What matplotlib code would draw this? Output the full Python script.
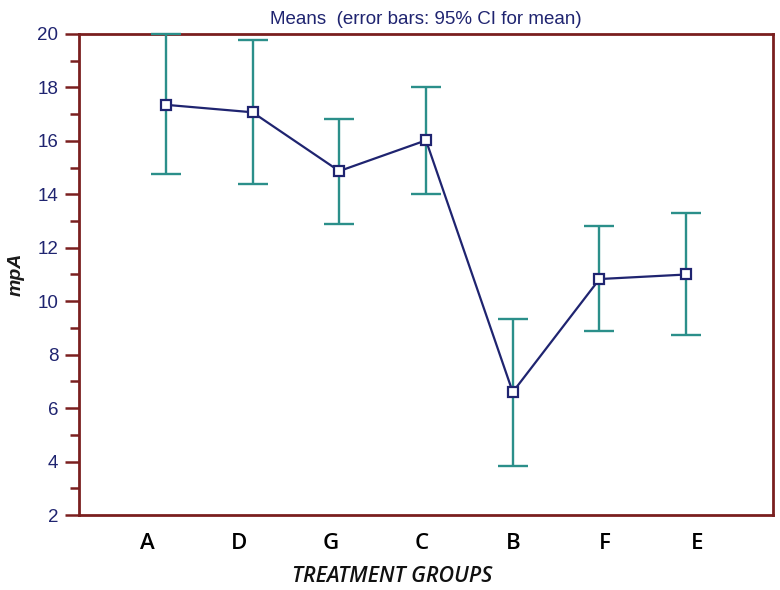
import numpy as np
import matplotlib.pyplot as plt

groups = ['A', 'D', 'G', 'C', 'B', 'F', 'E']
means = [17.35, 17.07, 14.87, 16.02, 6.60, 10.83, 11.00]
ci_low = [14.75, 14.37, 12.88, 14.01, 3.84, 8.87, 8.72]
ci_high = [20.0, 19.78, 16.83, 18.02, 9.33, 12.81, 13.29]

navy = '#1f2470'
teal = '#2b8f8a'
spine_red = '#7a1f1f'

x = np.arange(len(groups))
means = np.array(means)
yerr = [means - np.array(ci_low), np.array(ci_high) - means]

fig = plt.figure(figsize=(7.8, 5.9), dpi=100)
ax = fig.add_axes([0.1013, 0.1271, 0.8897, 0.8153])

eb = ax.errorbar(x, means, yerr=yerr, fmt='none', ecolor=teal, elinewidth=1.7,
                 capsize=11, capthick=1.7, zorder=3)
for art in eb.lines[1] + eb.lines[2]:
    art.set_clip_on(False)
ax.plot(x, means, color=navy, lw=1.6, marker='s', ms=7, mfc='white',
        mec=navy, mew=1.6, zorder=4, clip_on=False)

ax.set_xlim(-1, 7)
ax.set_ylim(2, 20)
ax.set_yticks(np.arange(2, 21, 2))
ax.set_yticks(np.arange(3, 20, 2), minor=True)

# category labels sit on a slightly wider spacing than the points
ax.set_xticks(-0.21 + 1.055 * x)
ax.set_xticklabels(groups, fontfamily='Open Sans', fontsize=16,
                   fontweight='semibold', color='black')
ax.tick_params(axis='x', length=0, pad=13)
ax.tick_params(axis='y', which='major', length=10, width=1.8, color=spine_red,
               labelsize=13.5, labelcolor=navy, pad=5)
ax.tick_params(axis='y', which='minor', length=6.5, width=1.8, color=spine_red)
for lab in ax.get_yticklabels():
    lab.set_fontfamily('Liberation Sans')

for side in ['left', 'right', 'top', 'bottom']:
    ax.spines[side].set_color(spine_red)
    ax.spines[side].set_linewidth(2)

ax.set_ylabel('mpA', fontfamily='Liberation Sans', fontsize=14,
              fontweight='bold', fontstyle='italic', color='#1a1a1a', labelpad=9)
ax.set_xlabel('TREATMENT GROUPS', fontfamily='Open Sans', fontsize=15.5,
              fontweight='semibold', fontstyle='italic', color='#111111')
ax.xaxis.set_label_coords(0.451, -0.106)
ax.set_title('Means  (error bars: 95% CI for mean)', fontfamily='Liberation Sans',
             fontsize=13.5, color=navy, pad=7)

fig.savefig('out.png', dpi=100)
